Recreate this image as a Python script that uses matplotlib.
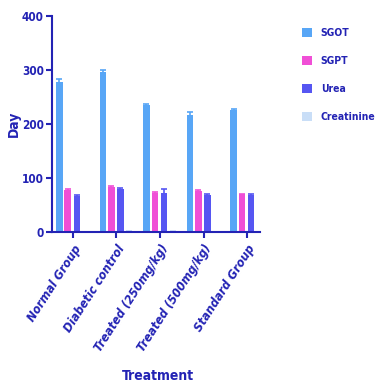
import numpy as np
import matplotlib
matplotlib.use('Agg')
import matplotlib.pyplot as plt
from matplotlib.patches import Patch

# group labels and measured values (mean, sem)
groups = ['Normal Group', 'Diabetic control', 'Treated (250mg/kg)',
          'Treated (500mg/kg)', 'Standard Group']
series = ['SGOT', 'SGPT', 'Urea', 'Creatinine']

sgot = [278, 296, 235, 217, 226]
sgot_err = [6, 3, 2, 5, 2]
sgpt = [77, 84, 73, 76, 70]
sgpt_err = [3, 2, 2, 2, 1]
urea = [66, 80, 72, 69, 68]
urea_err = [2, 2, 7, 2, 2]
creat = [0.8, 1.2, 0.9, 0.8, 0.8]
creat_err = [0.1, 0.1, 0.1, 0.1, 0.1]

colors = ['#58a6f6', '#f04fd6', '#5656f2', '#c9def7']
navy = '#2323b4'

plt.rcParams['font.family'] = ['DejaVu Sans']
plt.rcParams['font.stretch'] = 'condensed'
plt.rcParams['font.weight'] = 'bold'

fig = plt.figure(figsize=(3.77, 3.88), dpi=100)
ax = fig.add_axes([0.138, 0.402, 0.552, 0.557])

x = np.arange(len(groups))
offsets = [-0.31, -0.12, 0.09, 0.29]
width = 0.15
vals = [sgot, sgpt, urea, creat]
errs = [sgot_err, sgpt_err, urea_err, creat_err]
for v, e, off, c in zip(vals, errs, offsets, colors):
    ax.bar(x + off, v, width, yerr=e, color=c, ecolor=c,
           error_kw=dict(capsize=2, elinewidth=1.2, capthick=1.2))

ax.set_xlim(-0.48, 4.3)
ax.set_ylim(0, 400)
ax.set_yticks([0, 100, 200, 300, 400])
ax.set_xticks(x)
ax.set_xticklabels(groups, rotation=57, ha='right', rotation_mode='anchor',
                   style='italic', fontsize=9, color=navy)
ax.tick_params(axis='y', labelsize=8.5, colors=navy, width=1.5, length=4, pad=2)
ax.tick_params(axis='x', colors=navy, width=1.5, length=4)
for lab in ax.get_yticklabels():
    lab.set_color(navy)
for s in ['top', 'right']:
    ax.spines[s].set_visible(False)
for s in ['left', 'bottom']:
    ax.spines[s].set_color(navy)
    ax.spines[s].set_linewidth(1.5)

ax.set_ylabel('Day', fontsize=10, color=navy, labelpad=1, fontweight='bold')
fig.text(0.42, 0.02, 'Treatment', ha='center', fontsize=10, color=navy,
         fontweight='bold')

handles = [Patch(facecolor=c, edgecolor='none') for c in colors]
leg = fig.legend(handles, series, loc='upper left', bbox_to_anchor=(0.776, 0.952),
                 frameon=False, fontsize=7.5, labelspacing=1.7,
                 handlelength=1.0, handleheight=1.0, handletextpad=0.8)
for t in leg.get_texts():
    t.set_color(navy)

fig.savefig('out.png', dpi=100)
